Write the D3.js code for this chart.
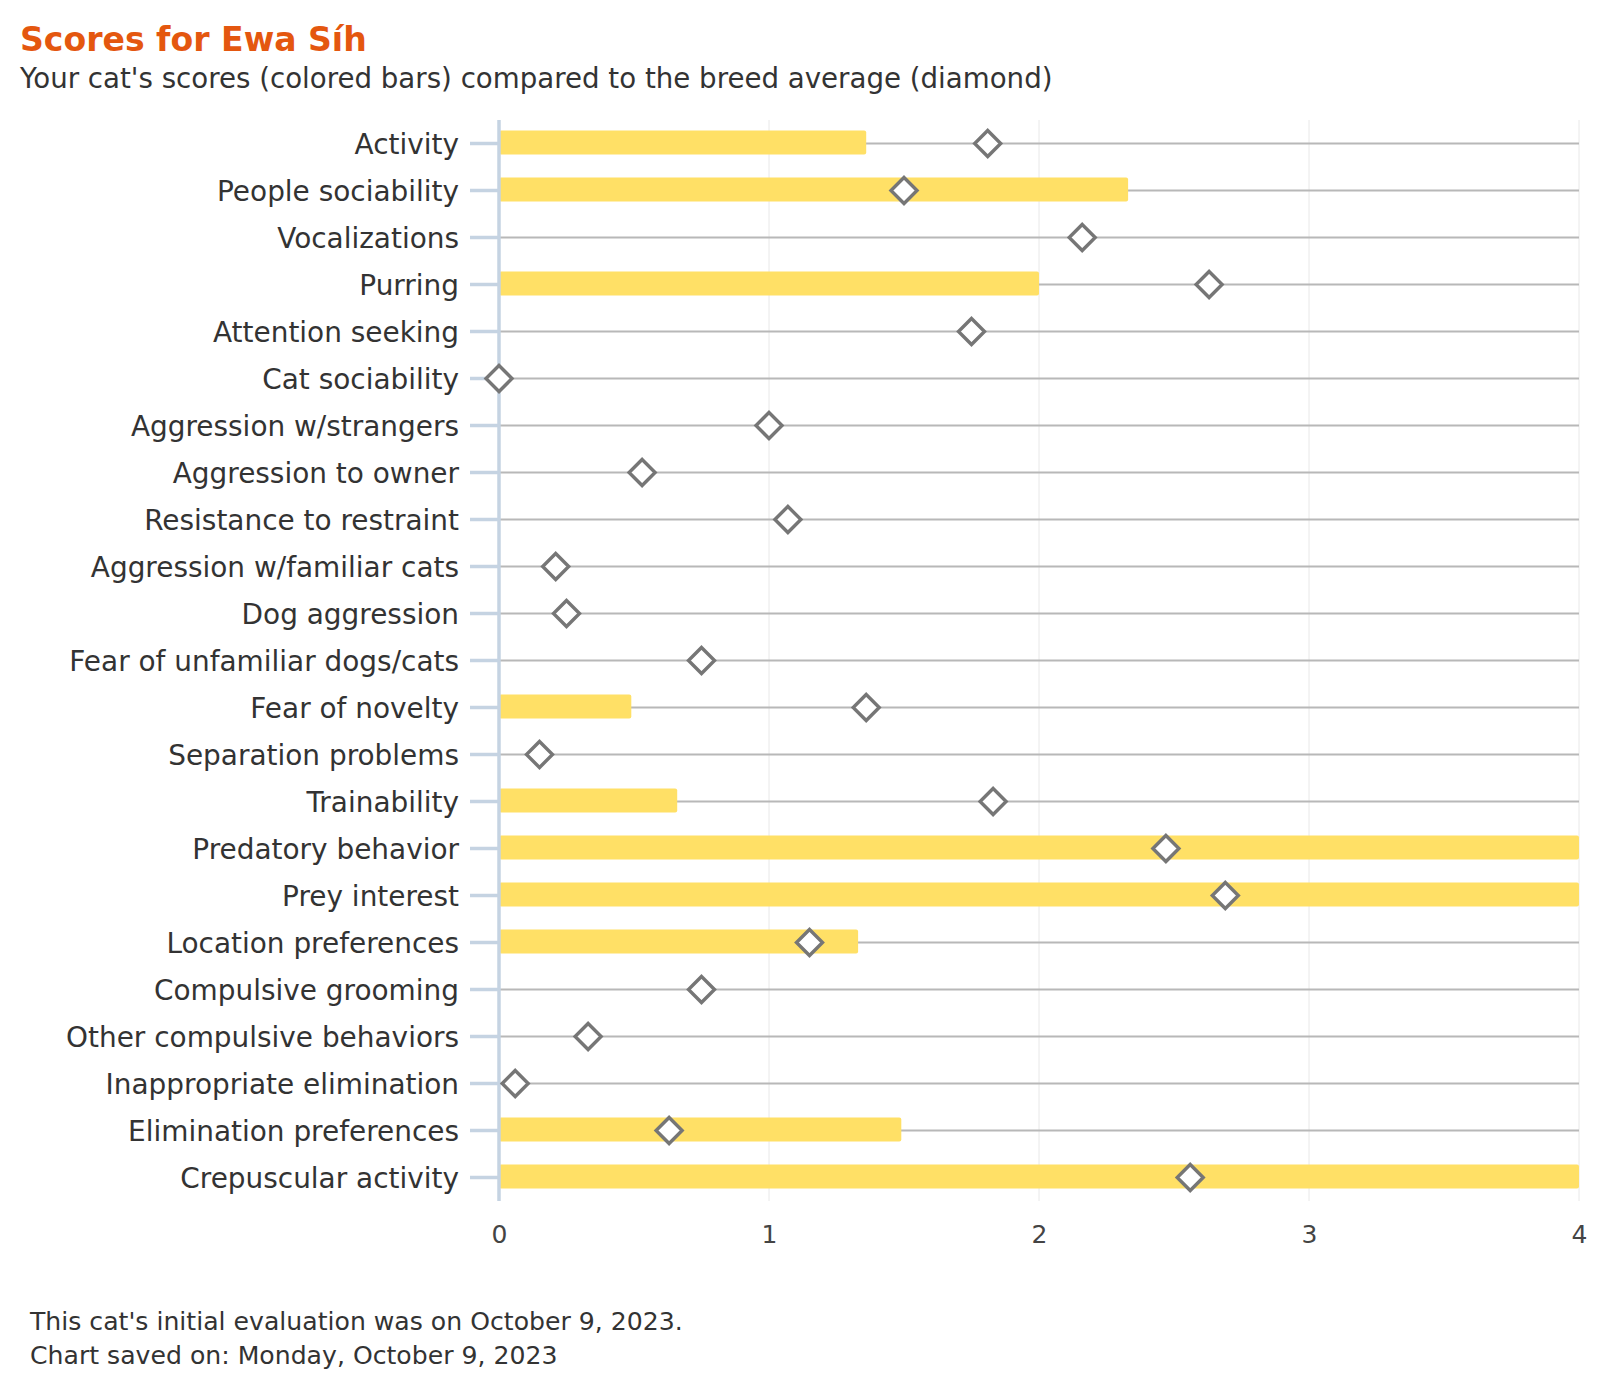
<!DOCTYPE html>
<html>
<head>
<meta charset="utf-8">
<script src="https://cdn.jsdelivr.net/npm/d3@7"></script>
<style>
  html, body { margin: 0; padding: 0; background: #fff; }
  svg { display: block; }
  text { font-family: "DejaVu Sans", "Noto Sans", sans-serif; }
</style>
</head>
<body>
<svg id="chart" width="1600" height="1400"></svg>
<script>
const titleText = "Scores for Ewa Síh";
const subtitleText = "Your cat's scores (colored bars) compared to the breed average (diamond)";
const footerLines = [
  "This cat's initial evaluation was on October 9, 2023.",
  "Chart saved on: Monday, October 9, 2023"
];

const categories = [
  "Activity", "People sociability", "Vocalizations", "Purring", "Attention seeking",
  "Cat sociability", "Aggression w/strangers", "Aggression to owner", "Resistance to restraint",
  "Aggression w/familiar cats", "Dog aggression", "Fear of unfamiliar dogs/cats", "Fear of novelty",
  "Separation problems", "Trainability", "Predatory behavior", "Prey interest",
  "Location preferences", "Compulsive grooming", "Other compulsive behaviors",
  "Inappropriate elimination", "Elimination preferences", "Crepuscular activity"
];
const catScores = [
  1.36, 2.33, 0, 2.0, 0,
  0, 0, 0, 0,
  0, 0, 0, 0.49,
  0, 0.66, 4, 4,
  1.33, 0, 0,
  0, 1.49, 4
];
const breedAverage = [
  1.81, 1.50, 2.16, 2.63, 1.75,
  0, 1.0, 0.53, 1.07,
  0.21, 0.25, 0.75, 1.36,
  0.15, 1.83, 2.47, 2.69,
  1.15, 0.75, 0.33,
  0.06, 0.63, 2.56
];
const xTicks = [0, 1, 2, 3, 4];

const svg = d3.select("#chart");
const margin = { left: 499, right: 21, top: 120, bottom: 199 };
const W = 1600, H = 1400;

const x = d3.scaleLinear().domain([0, 4]).range([margin.left, W - margin.right]);
const y = d3.scaleBand().domain(categories).range([margin.top, H - margin.bottom]).paddingInner(0.49).paddingOuter(0.245);
const yc = d => y(d) + y.bandwidth() / 2;

function fit(sel, target) {
  const w = sel.node().getComputedTextLength();
  const fs = parseFloat(sel.attr("font-size"));
  sel.attr("font-size", (fs * target / w).toFixed(2));
}

// Title & subtitle
const title = svg.append("text").attr("x", 20).attr("y", 51)
  .attr("font-size", 32).attr("font-weight", "bold").attr("fill", "#e4570f").text(titleText);
fit(title, 347);
const sub = svg.append("text").attr("x", 20).attr("y", 88)
  .attr("font-size", 24).attr("fill", "#333").text(subtitleText);
fit(sub, 1033);

// Vertical grid lines
svg.append("g").selectAll("line").data(xTicks.slice(1)).join("line")
  .attr("x1", d => x(d)).attr("x2", d => x(d))
  .attr("y1", margin.top).attr("y2", H - margin.bottom)
  .attr("stroke", "#e8e8e8").attr("stroke-width", 1);

// Horizontal row lines
svg.append("g").selectAll("line").data(categories).join("line")
  .attr("x1", x(0)).attr("x2", x(4))
  .attr("y1", d => yc(d)).attr("y2", d => yc(d))
  .attr("stroke", "#b8b8b8").attr("stroke-width", 2);

// Bars
const barH = 24;
svg.append("g").selectAll("rect").data(categories.map((c, i) => ({ c, v: catScores[i] })).filter(d => d.v > 0)).join("rect")
  .attr("x", x(0)).attr("y", d => yc(d.c) - barH / 2 - 1)
  .attr("width", d => x(d.v) - x(0)).attr("height", barH)
  .attr("rx", 2).attr("fill", "#ffe066");

// Y axis
const yAxis = d3.axisLeft(y).tickSize(29).tickPadding(11);
const gy = svg.append("g").attr("transform", `translate(${x(0)},0)`).call(yAxis);
gy.select(".domain").remove();
gy.selectAll(".tick line").attr("stroke", "#c5d3e2").attr("stroke-width", 3.5);
gy.selectAll(".tick text").attr("fill", "#333").attr("font-size", 26)
  .attr("font-family", "DejaVu Sans, sans-serif").attr("dy", "0.36em");
svg.append("line").attr("x1", x(0)).attr("x2", x(0))
  .attr("y1", margin.top).attr("y2", H - margin.bottom)
  .attr("stroke", "#c5d3e2").attr("stroke-width", 3.5);

// fit y labels by longest
{
  let maxW = 0;
  gy.selectAll(".tick text").each(function () { maxW = Math.max(maxW, this.getComputedTextLength()); });
  const fs = 26 * 393 / maxW;
  gy.selectAll(".tick text").attr("font-size", fs.toFixed(2));
}

// X axis labels
const xAxis = d3.axisBottom(x).tickValues(xTicks).tickSize(0).tickPadding(0).tickFormat(d3.format("d"));
const gx = svg.append("g").attr("transform", `translate(0,${H - margin.bottom})`).call(xAxis);
gx.select(".domain").remove();
gx.selectAll(".tick text").attr("fill", "#444").attr("font-size", 25)
  .attr("font-family", "DejaVu Sans, sans-serif").attr("dy", 0).attr("y", 42);

// Diamonds
const dS = 13;
svg.append("g").selectAll("path").data(categories.map((c, i) => ({ c, v: breedAverage[i] }))).join("path")
  .attr("transform", d => `translate(${x(d.v)},${yc(d.c)})`)
  .attr("d", `M0,${-dS} L${dS},0 L0,${dS} L${-dS},0 Z`)
  .attr("fill", "#fff").attr("stroke", "#767676").attr("stroke-width", 3.4);

// Footer
const f1 = svg.append("text").attr("x", 30).attr("y", 1330).attr("font-size", 24).attr("fill", "#333").text(footerLines[0]);
fit(f1, 653);
const fs1 = f1.attr("font-size");
svg.append("text").attr("x", 30).attr("y", 1364).attr("font-size", fs1).attr("fill", "#333").text(footerLines[1]);
</script>
</body>
</html>
